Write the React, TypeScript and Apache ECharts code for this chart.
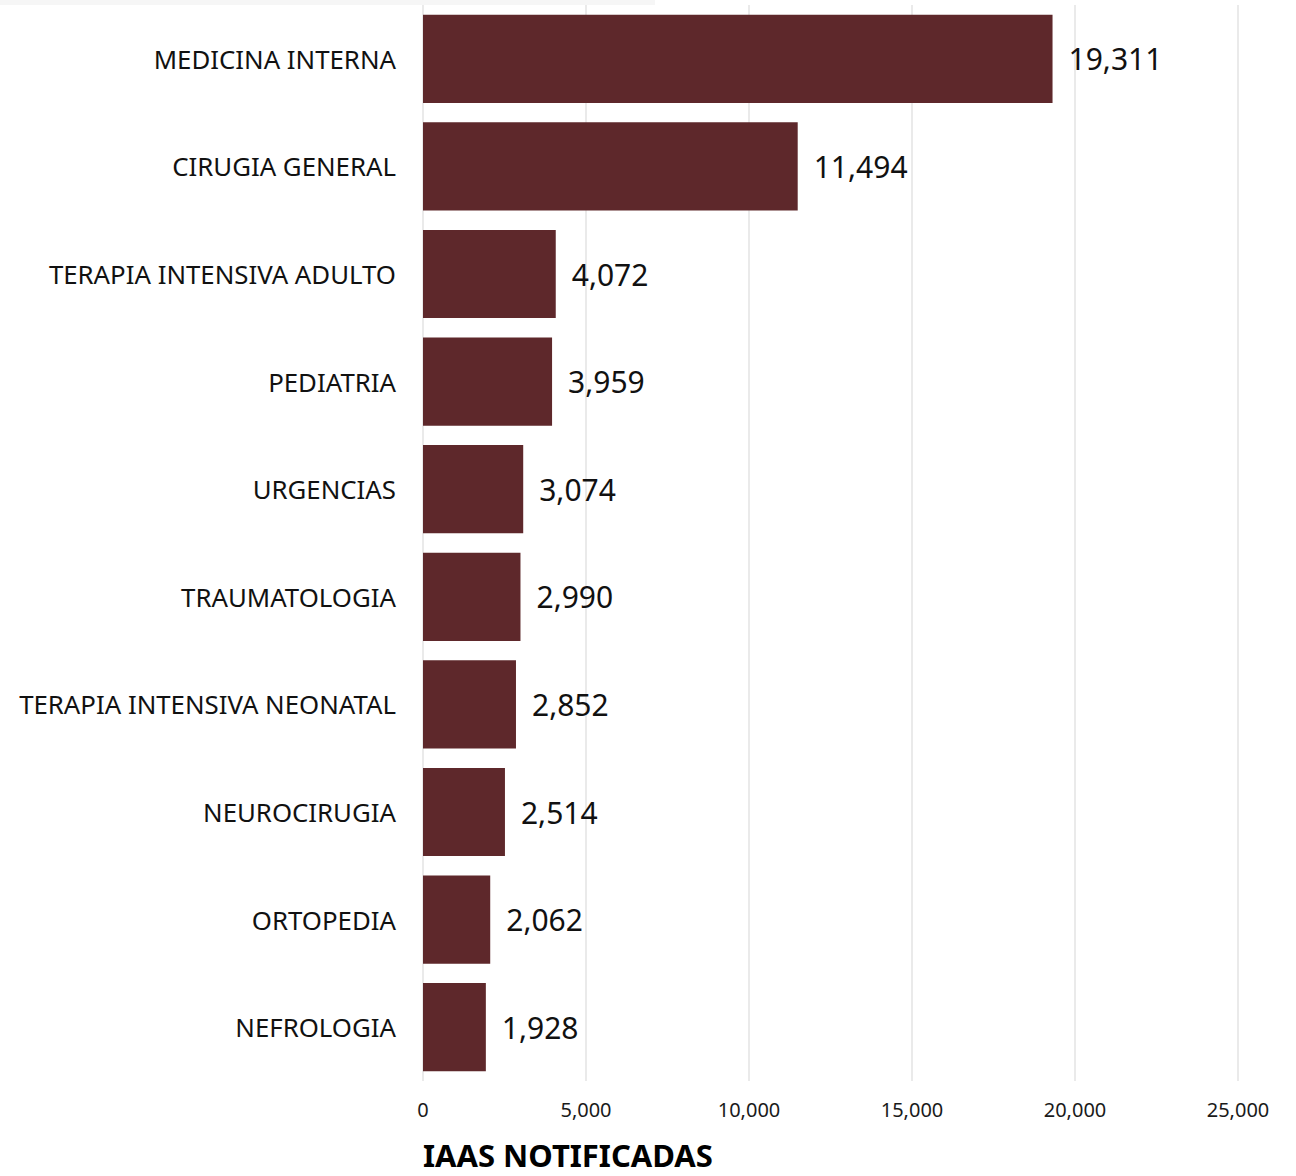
import React, { useEffect, useRef } from "react";
import * as echarts from "echarts";

const categories = [
  "MEDICINA INTERNA",
  "CIRUGIA GENERAL",
  "TERAPIA INTENSIVA ADULTO",
  "PEDIATRIA",
  "URGENCIAS",
  "TRAUMATOLOGIA",
  "TERAPIA INTENSIVA NEONATAL",
  "NEUROCIRUGIA",
  "ORTOPEDIA",
  "NEFROLOGIA",
];
const values = [19311, 11494, 4072, 3959, 3074, 2990, 2852, 2514, 2062, 1928];
const axisTitle = "IAAS NOTIFICADAS";

const fmt = (v: number) => v.toLocaleString("en-US");

export default function App() {
  const ref = useRef<HTMLDivElement>(null);
  useEffect(() => {
    document.body.style.margin = "0";
    const chart = echarts.init(ref.current!, null, { renderer: "svg" });
    chart.setOption({
      animation: false,
      backgroundColor: "#ffffff",
      textStyle: { fontFamily: "Noto Sans" },
      grid: { left: 423, right: 58, top: 5, bottom: 95, containLabel: false },
      xAxis: {
        type: "value",
        min: 0,
        max: 25000,
        interval: 5000,
        axisLine: { show: false },
        axisTick: { show: false },
        splitLine: { show: true, lineStyle: { color: "#e3e3e3", width: 1.5 } },
        axisLabel: {
          formatter: (v: number) => fmt(v),
          fontSize: 20,
          color: "#1a1a1a",
          margin: 18,
        },
      },
      yAxis: {
        type: "category",
        data: categories,
        inverse: true,
        axisLine: { show: false },
        axisTick: { show: false },
        axisLabel: { fontSize: 25.8, color: "#111111", margin: 27 },
      },
      graphic: [
        {
          type: "rect",
          left: 0,
          top: 0,
          shape: { width: 655, height: 5 },
          style: { fill: "#f6f6f6" },
        },
        {
          type: "text",
          left: 423,
          top: 1139,
          style: {
            text: axisTitle,
            font: "bold 31px 'Noto Sans'",
            fill: "#000000",
          },
        },
      ],
      series: [
        {
          type: "bar",
          data: values,
          barCategoryGap: "18%",
          itemStyle: { color: "#5e282b" },
          label: {
            show: true,
            position: "right",
            distance: 16,
            fontSize: 30,
            color: "#111111",
            formatter: (p: any) => fmt(p.value),
          },
        },
      ],
    });
    return () => chart.dispose();
  }, []);
  return <div ref={ref} style={{ width: 1296, height: 1176 }} />;
}
